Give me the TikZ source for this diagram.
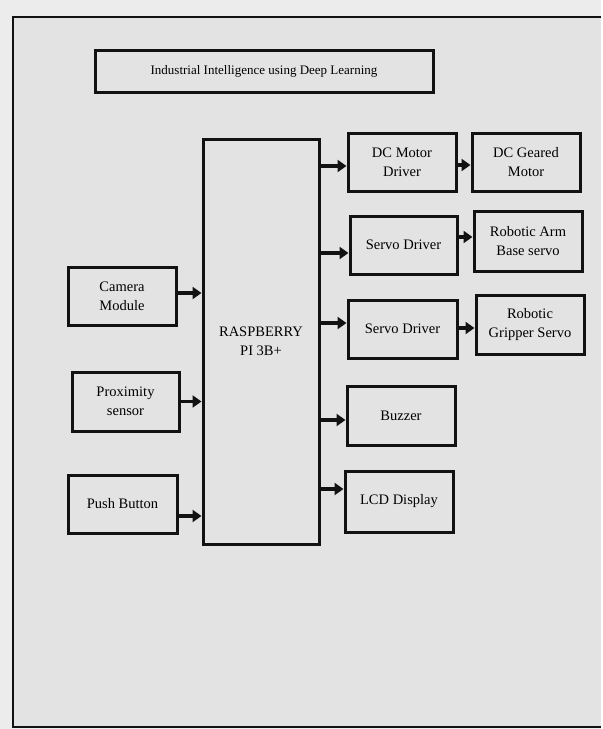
\documentclass[tikz,border=0pt]{standalone}
\usepackage{fontspec}
\setmainfont{Liberation Serif}
\usetikzlibrary{arrows.meta,calc}
\definecolor{bgout}{HTML}{ECECEC}
\definecolor{bgin}{HTML}{E3E3E3}
\definecolor{ink}{HTML}{121212}
\begin{document}
\begin{tikzpicture}[x=1pt,y=-1pt,
  blk/.style={draw=ink, line width=3pt, fill=bgin, align=center, inner sep=0pt,
    font=\fontsize{14.5}{19}\selectfont},
  conn/.style={draw=ink, line width=3.2pt, -{Triangle[length=9pt,width=12pt]}},
  frameline/.style={draw=ink, line width=2.8pt}]
% background and frame
\fill[bgout] (0,0) rectangle (601,729);
\fill[bgin] (13,17) rectangle (601,727);
\draw[frameline] (601,17) -- (13,17) -- (13,727) -- (601,727);
\useasboundingbox (0,0) rectangle (601,729);
% title
\node[blk, minimum width=338pt, minimum height=42pt, font=\fontsize{13}{16}\selectfont] (title) at (264,71) {Industrial Intelligence using Deep Learning};
% inputs
\node[blk, minimum width=108pt, minimum height=58pt] (cam) at (122,296) {Camera\\Module};
\node[blk, minimum width=107pt, minimum height=59pt] (prox) at (125.5,401.5) {Proximity\\sensor};
\node[blk, minimum width=109pt, minimum height=58pt] (push) at (122.5,504) {Push Button};
% controller
\node[blk, minimum width=116pt, minimum height=405pt] (rpi) at (261,341.5) {RASPBERRY\\PI 3B+};
% outputs
\node[blk, minimum width=108pt, minimum height=58pt] (dcd) at (402,162) {DC Motor\\Driver};
\node[blk, minimum width=108pt, minimum height=58pt] (dcm) at (526,162) {DC Geared\\Motor};
\node[blk, minimum width=107pt, minimum height=58pt] (sd1) at (403.5,245) {Servo Driver};
\node[blk, minimum width=108pt, minimum height=60pt] (arm) at (528,241) {Robotic Arm\\Base servo};
\node[blk, minimum width=109pt, minimum height=58pt] (sd2) at (402.5,329) {Servo Driver};
\node[blk, minimum width=108pt, minimum height=59pt] (grip) at (530,324.5) {Robotic\\Gripper Servo};
\node[blk, minimum width=108pt, minimum height=59pt] (buz) at (401,415.5) {Buzzer};
\node[blk, minimum width=108pt, minimum height=61pt] (lcd) at (399,501.5) {LCD Display};
% input arrows
\draw[conn] ([yshift=3pt]cam.east) -- ([yshift=3pt]cam.east -| rpi.west);
\draw[conn] (prox.east) -- (prox.east -| rpi.west);
\draw[conn] ([yshift=-12pt]push.east) -- ([yshift=-12pt]push.east -| rpi.west);
% output arrows
\draw[conn] ([yshift=-4pt]dcd.west -| rpi.east) -- ([yshift=-4pt]dcd.west);
\draw[conn] ([yshift=-8pt]sd1.west -| rpi.east) -- ([yshift=-8pt]sd1.west);
\draw[conn] ([yshift=6pt]sd2.west -| rpi.east) -- ([yshift=6pt]sd2.west);
\draw[conn] ([yshift=-4.5pt]buz.west -| rpi.east) -- ([yshift=-4.5pt]buz.west);
\draw[conn] ([yshift=12.5pt]lcd.west -| rpi.east) -- ([yshift=12.5pt]lcd.west);
% second stage arrows
\draw[conn] ([yshift=-3pt]dcm.west -| dcd.east) -- ([yshift=-3pt]dcm.west);
\draw[conn] ([yshift=4pt]arm.west -| sd1.east) -- ([yshift=4pt]arm.west);
\draw[conn] ([yshift=-3.5pt]grip.west -| sd2.east) -- ([yshift=-3.5pt]grip.west);
\end{tikzpicture}
\end{document}
